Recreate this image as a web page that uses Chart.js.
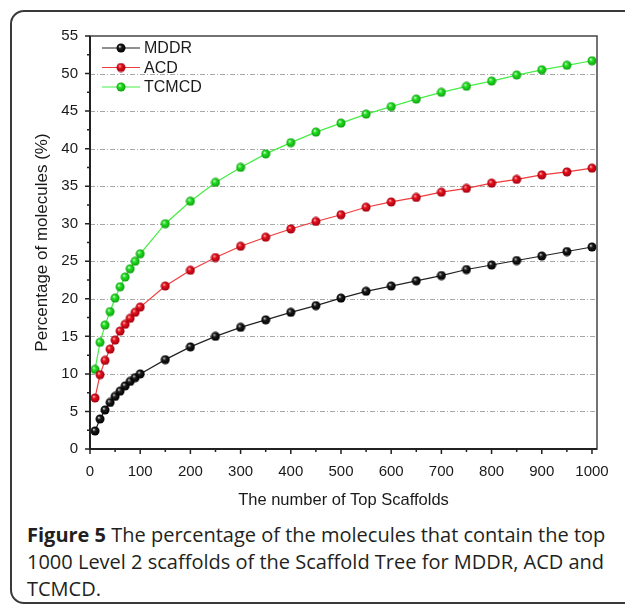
<!DOCTYPE html>
<html>
<head>
<meta charset="utf-8">
<script src="https://cdn.jsdelivr.net/npm/chart.js@4"></script>
<style>
  html, body { margin: 0; padding: 0; background: #fff; }
  body { width: 625px; height: 607px; position: relative; overflow: hidden; }
  .card {
    position: absolute; left: 10px; top: 10px; width: 700px; height: 594px;
    border: 2px solid #3a3a3a; border-radius: 14px; box-sizing: border-box;
  }
  #wrap { position: absolute; left: 0; top: 0; width: 625px; height: 520px; }
  .caption {
    position: absolute; left: 27px; top: 521px; white-space: nowrap;
    font-family: "Open Sans", "Noto Sans", sans-serif; font-size: 20px;
    line-height: 27px; color: #231f20;
  }
</style>
</head>
<body>
<div class="card"></div>
<div id="wrap"><canvas id="chart" width="625" height="520"></canvas></div>
<div class="caption"><b>Figure 5</b> The percentage of the molecules that contain the top<br>1000 Level 2 scaffolds of the Scaffold Tree for MDDR, ACD and<br>TCMCD.</div>
<script>
// top N scaffolds
const topScaffolds = [10, 20, 30, 40, 50, 60, 70, 80, 90, 100,
	150, 200, 250, 300, 350, 400, 450, 500, 550, 600, 650, 700, 750, 800, 850, 900, 950, 1000];
const mddr = [2.4, 4.0, 5.2, 6.2, 7.0, 7.7, 8.4, 9.0, 9.5, 10.0,
	11.9, 13.6, 15.0, 16.2, 17.2, 18.2, 19.1, 20.1, 21.0, 21.7, 22.4, 23.1, 23.9, 24.5, 25.1, 25.7, 26.3, 26.9];
const acd = [6.8, 9.9, 11.8, 13.3, 14.5, 15.7, 16.6, 17.4, 18.2, 18.9,
	21.7, 23.8, 25.5, 27.0, 28.2, 29.3, 30.3, 31.2, 32.2, 32.9, 33.5, 34.2, 34.7, 35.4, 35.9, 36.5, 36.9, 37.4];
const tcmcd = [10.6, 14.2, 16.5, 18.3, 20.1, 21.6, 22.9, 24.0, 25.0, 26.0,
	30.0, 33.0, 35.5, 37.5, 39.3, 40.8, 42.2, 43.4, 44.6, 45.6, 46.6, 47.5, 48.3, 49.0, 49.8, 50.5, 51.1, 51.7];
const seriesNames = ["MDDR", "ACD", "TCMCD"];
const xTicks = [0, 100, 200, 300, 400, 500, 600, 700, 800, 900, 1000];
const yTicks = [0, 5, 10, 15, 20, 25, 30, 35, 40, 45, 50, 55];

const FONT = "'Liberation Sans', Arial, sans-serif";

// little shaded balls for the markers
function makeBall(light, base, dark) {
	const r = 4.5;
	const c = document.createElement("canvas");
	c.width = c.height = 10;
	const g = c.getContext("2d");
	const grad = g.createRadialGradient(3.6, 3.4, 0.3, 5, 5, r);
	grad.addColorStop(0, light);
	grad.addColorStop(0.35, base);
	grad.addColorStop(1, dark);
	g.fillStyle = grad;
	g.beginPath();
	g.arc(5, 5, r, 0, Math.PI * 2);
	g.fill();
	return c;
}
const balls = [
	makeBall("#c8c8c8", "#1a1a1a", "#000"),
	makeBall("#ffb0b0", "#e8101c", "#a00010"),
	makeBall("#c8ffc8", "#22e022", "#10a010")
];
const lineColors = ["#222222", "#f03a3a", "#44ee44"];

function pts(arr) {
	return topScaffolds.map((x, i) => ({ x: x, y: arr[i] }));
}

const frame = {
	id: "frame",
	beforeDatasetsDraw(chart) {
		const { ctx, chartArea: a, scales: { y } } = chart;
		ctx.save();
		ctx.strokeStyle = "#a8a8a8";
		ctx.lineWidth = 1;
		ctx.setLineDash([5, 2, 1, 2]);
		yTicks.forEach(v => {
			if (v === 0 || v === 55) return;
			const py = Math.round(y.getPixelForValue(v)) + 0.5;
			ctx.beginPath();
			ctx.moveTo(a.left, py);
			ctx.lineTo(a.right, py);
			ctx.stroke();
		});
		ctx.restore();
	},
	afterDraw(chart) {
		const { ctx, chartArea: a, scales: { x, y } } = chart;
		ctx.save();
		// box
		ctx.strokeStyle = "#444";
		ctx.lineWidth = 1.5;
		ctx.strokeRect(a.left, a.top, a.right - a.left, a.bottom - a.top);
		ctx.strokeStyle = "#222";
		ctx.lineWidth = 2;
		ctx.beginPath();
		ctx.moveTo(a.left, a.top);
		ctx.lineTo(a.left, a.bottom);
		ctx.lineTo(a.right, a.bottom);
		ctx.stroke();
		// ticks
		ctx.lineWidth = 1.5;
		ctx.beginPath();
		for (let v = 0; v <= 1000; v += 50) {
			const px = x.getPixelForValue(v);
			ctx.moveTo(px, a.bottom);
			ctx.lineTo(px, a.bottom + (v % 100 === 0 ? 5 : 3));
		}
		for (let v = 0; v <= 55; v += 2.5) {
			const py = y.getPixelForValue(v);
			ctx.moveTo(a.left, py);
			ctx.lineTo(a.left - (v % 5 === 0 ? 5 : 3), py);
		}
		ctx.stroke();
		// legend
		ctx.font = "16px " + FONT;
		ctx.textBaseline = "middle";
		ctx.fillStyle = "#1a1a1a";
		seriesNames.forEach((name, i) => {
			const ly = 48 + i * 19.5;
			ctx.strokeStyle = lineColors[i];
			ctx.lineWidth = 1.2;
			ctx.beginPath();
			ctx.moveTo(102, ly);
			ctx.lineTo(140, ly);
			ctx.stroke();
			ctx.drawImage(balls[i], 121 - 5, ly - 5);
			ctx.fillText(name, 144, ly + 1);
		});
		ctx.restore();
	}
};

const ctx = document.getElementById("chart").getContext("2d");
const data = [mddr, acd, tcmcd];
new Chart(ctx, {
	type: "line",
	data: {
		datasets: seriesNames.map((name, i) => ({
			label: name,
			data: pts(data[i]),
			borderColor: lineColors[i],
			borderWidth: 1.2,
			pointStyle: balls[i],
			pointRadius: 5,
			tension: 0
		}))
	},
	options: {
		responsive: false,
		animation: false,
		layout: { padding: { top: 36, right: 28, left: 0, bottom: 0 } },
		plugins: { legend: { display: false }, tooltip: { enabled: false } },
		scales: {
			x: {
				type: "linear",
				min: 0,
				max: 1010,
				afterBuildTicks: s => { s.ticks = xTicks.map(v => ({ value: v })); },
				afterFit: s => { s.height = 71; },
				grid: { display: false, drawTicks: false },
				border: { display: false },
				ticks: {
					padding: 14,
					color: "#1a1a1a",
					font: { family: FONT, size: 15 },
					maxRotation: 0,
					callback: v => String(v)
				},
				title: {
					display: true,
					text: "The number of Top Scaffolds",
					color: "#1a1a1a",
					font: { family: FONT, size: 16.5 },
					padding: { top: 10, bottom: 10 }
				}
			},
			y: {
				min: 0,
				max: 55,
				afterBuildTicks: s => { s.ticks = yTicks.map(v => ({ value: v })); },
				afterFit: s => { s.width = 90; },
				grid: { display: false, drawTicks: false },
				border: { display: false },
				ticks: {
					padding: 12,
					color: "#1a1a1a",
					font: { family: FONT, size: 15 },
					callback: v => String(v)
				},
				title: {
					display: true,
					text: "Percentage of molecules (%)",
					color: "#1a1a1a",
					font: { family: FONT, size: 17 },
					padding: { top: 32, bottom: 0 }
				}
			}
		}
	},
	plugins: [frame]
});
</script>
</body>
</html>
